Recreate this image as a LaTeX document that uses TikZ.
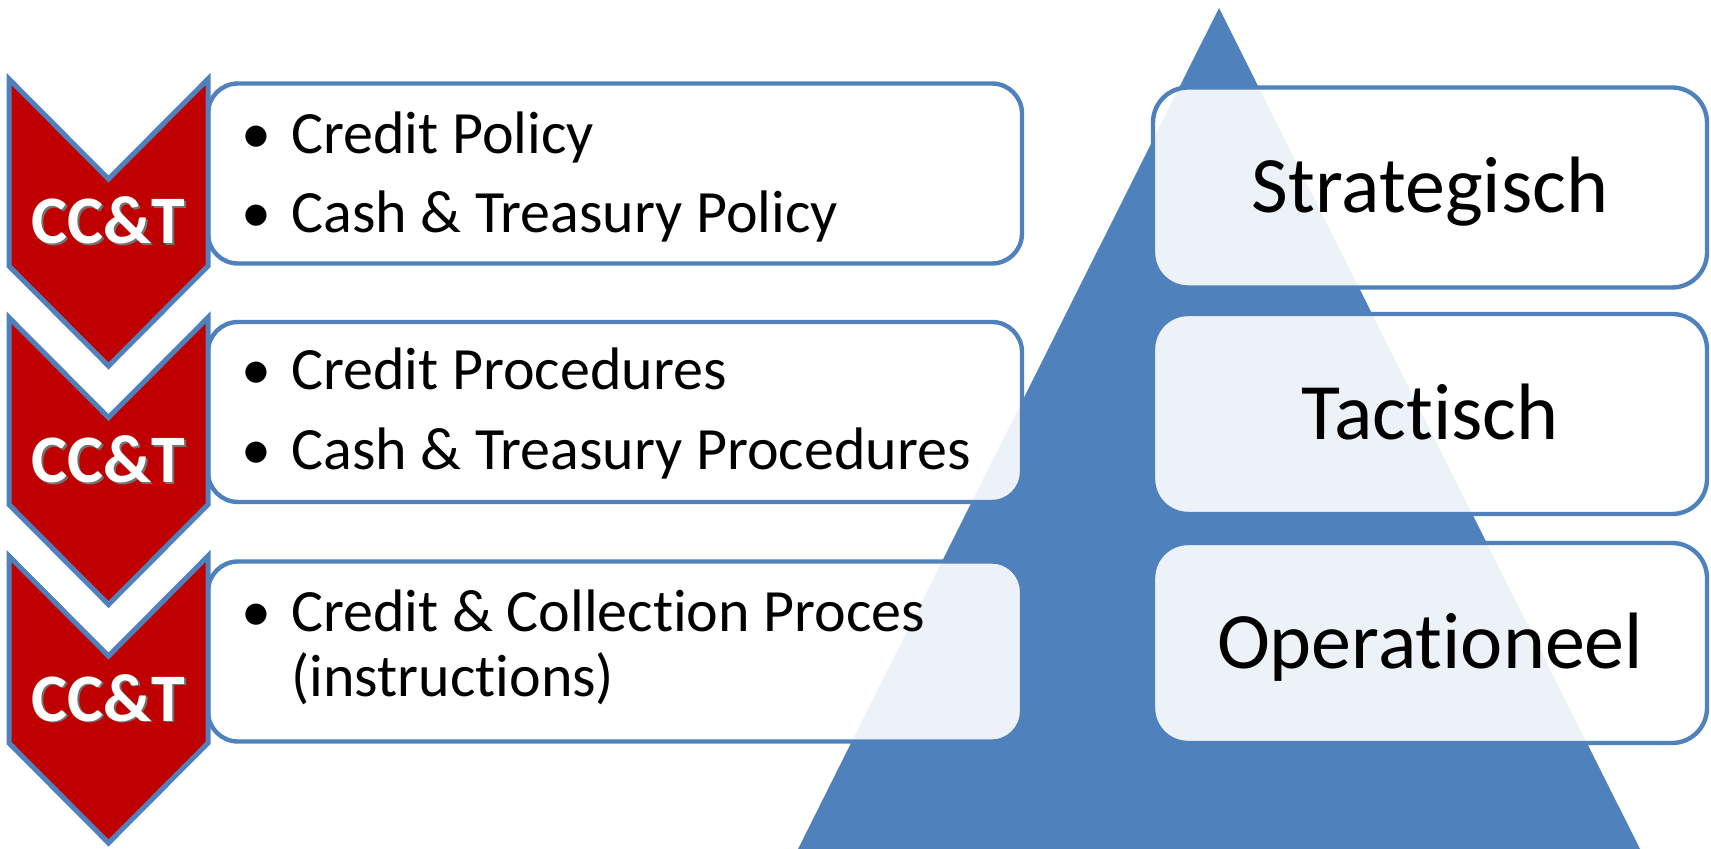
\documentclass[tikz,border=0pt]{standalone}
\usepackage{fontspec}
\setmainfont{Carlito}[Ligatures=CommonOff, Contextuals=AlternateOff]
\usepackage{tikz}
\usetikzlibrary{calc,positioning}

\definecolor{ccblue}{HTML}{4F81BD}
\definecolor{ccred}{HTML}{C00000}
\newcommand{\shadowed}[1]{\makebox[0pt][l]{\hspace{0.9pt}\raisebox{-0.9pt}{\color{black!55}#1}}#1}

\tikzset{
  chevron/.style={draw=ccblue, fill=ccred, line width=2.5pt, miter limit=10},
  ccttext/.style={text=white, inner sep=0pt, text height=21.5pt, text depth=0pt,
    font=\fontsize{34}{40}\selectfont\bfseries},
  listbox/.style={draw=ccblue, fill=white, fill opacity=0.9, text opacity=1,
    line width=2.2pt, rounded corners=15pt, minimum width=407pt, minimum height=90pt,
    inner sep=0pt, outer sep=0pt},
  levelbox/.style={listbox, rounded corners=17.5pt, minimum width=277pt,
    minimum height=100pt, text height=25.3pt, text depth=0pt,
    font=\fontsize{40}{48}\selectfont},
  item/.style={anchor=base west, inner sep=0pt, font=\fontsize{30}{36}\selectfont},
  dot/.style={anchor=base, inner sep=0pt, font=\fontsize{30}{36}\selectfont},
}

\begin{document}
\begin{tikzpicture}[x=0.5pt, y=-0.5pt]
\useasboundingbox (0,0) rectangle (1711,849);
\clip (0,0) rectangle (1711,849);

% pyramid behind the boxes
\fill[ccblue] (1219,8) -- (1640,849) -- (798,849) -- cycle;

% left: documents per level
\node[listbox] (pol) at (615,173.5) {};
\node[listbox] (proc) at (615,412) {};
\node[listbox] (inst) at (615,651.5) {};

\node[dot] (pol-b1) at ($(pol.north west)+(48,70)$) {\textbullet};
\node[item] (pol-i1) at ($(pol.north west)+(83,70)$) {Credit Policy};
\node[dot] (pol-b2) at ($(pol.north west)+(48,149)$) {\textbullet};
\node[item] (pol-i2) at ($(pol.north west)+(83,149)$) {Cash \& Treasury Policy};

\node[dot] (proc-b1) at ($(proc.north west)+(48,68)$) {\textbullet};
\node[item] (proc-i1) at ($(proc.north west)+(83,68)$) {Credit Procedures};
\node[dot] (proc-b2) at ($(proc.north west)+(48,147)$) {\textbullet};
\node[item] (proc-i2) at ($(proc.north west)+(83,147)$) {Cash \& Treasury Procedures};

\node[dot] (inst-b1) at ($(inst.north west)+(48,70)$) {\textbullet};
\node[item] (inst-i1) at ($(inst.north west)+(83,70)$) {Credit \& Collection Proces};
\node[item] (inst-i2) at ($(inst.north west)+(83,135)$) {(instructions)};

% right: levels
\node[levelbox] (strat) at (1430,187.5) {Strategisch};
\node[levelbox] (tact) at (1430,414) {Tactisch};
\node[levelbox] (oper) at (1430,643) {Operationeel};

% chevrons
\foreach \t [count=\i] in {79,317.5,556} {
  \draw[chevron] (9,\t) -- (108.5,\t+100) -- (208,\t) -- (208,\t+187)
    -- (108.5,\t+287) -- (9,\t+187) -- cycle;
  \node[ccttext] (cct\i) at (108.5,\t+143.5) {\shadowed{CC\&T}};
}
\end{tikzpicture}
\end{document}
